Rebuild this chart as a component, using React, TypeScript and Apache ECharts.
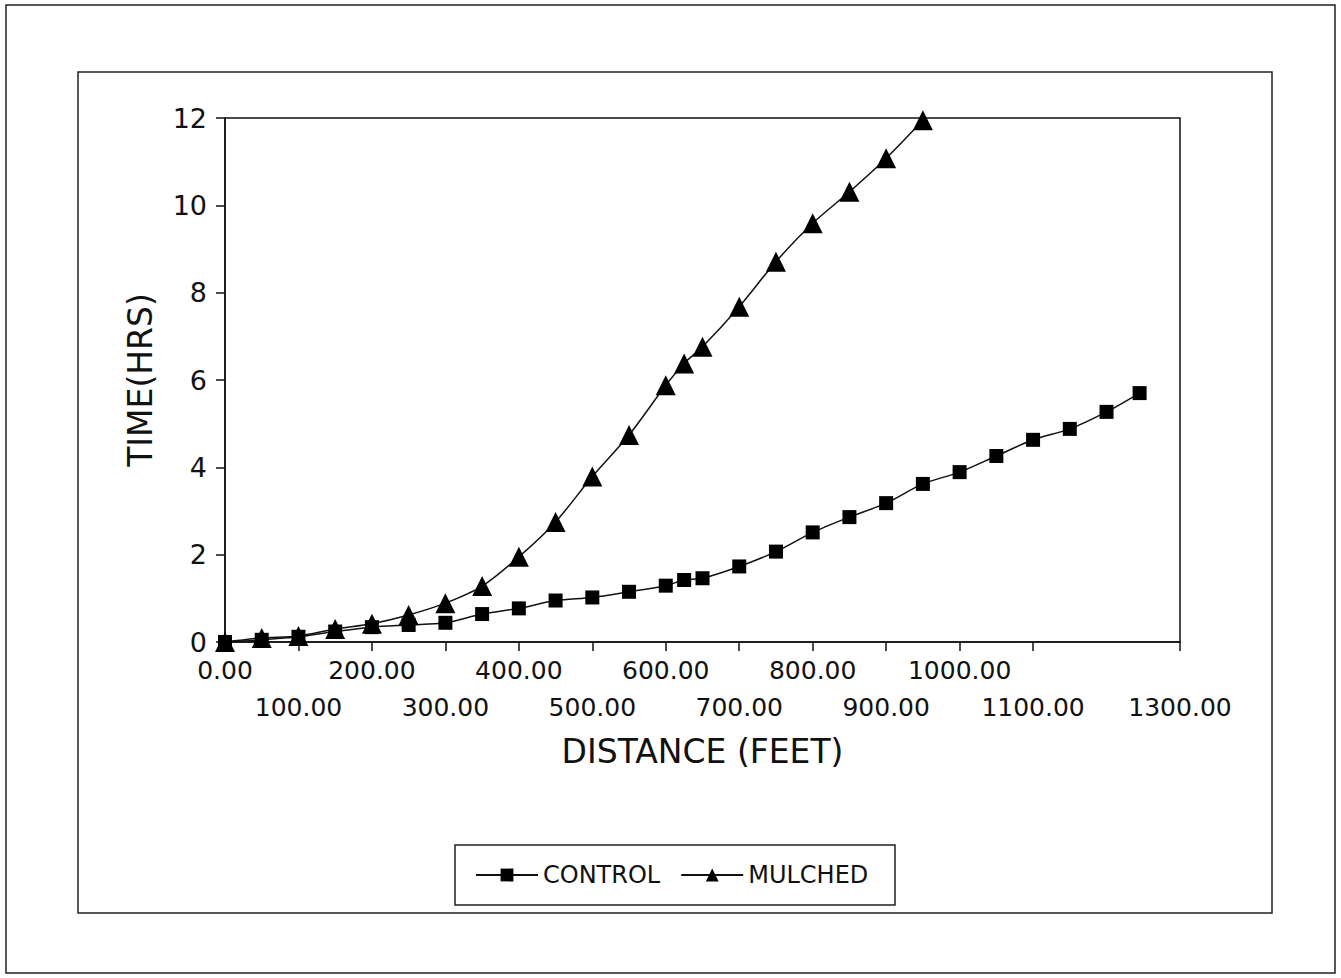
import React, { useEffect, useRef } from "react";
import * as echarts from "echarts";

const controlDistance = [0, 50, 100, 150, 200, 250, 300, 350, 400, 450, 500, 550, 600, 625, 650, 700, 750, 800, 850, 900, 950, 1000, 1050, 1100, 1150, 1200, 1245];
const controlTime = [0, 0.05, 0.12, 0.24, 0.34, 0.39, 0.44, 0.64, 0.77, 0.95, 1.02, 1.15, 1.29, 1.42, 1.46, 1.73, 2.07, 2.51, 2.86, 3.18, 3.62, 3.89, 4.26, 4.63, 4.88, 5.27, 5.70];

const mulchedDistance = [0, 50, 100, 150, 200, 250, 300, 350, 400, 450, 500, 550, 600, 625, 650, 700, 750, 800, 850, 900, 950];
const mulchedTime = [0, 0.09, 0.14, 0.3, 0.42, 0.62, 0.89, 1.28, 1.95, 2.75, 3.79, 4.74, 5.88, 6.38, 6.76, 7.68, 8.71, 9.59, 10.31, 11.08, 11.95];

const seriesNames = ["CONTROL", "MULCHED"];
const xTitle = "DISTANCE (FEET)";
const yTitle = "TIME(HRS)";

const FONT = "DejaVu Sans";

export default function App() {
  const ref = useRef<HTMLDivElement>(null);
  useEffect(() => {
    if (!ref.current) return;
    const chart = echarts.init(ref.current, null, { renderer: "svg" });
    const pair = (xs: number[], ys: number[]) => xs.map((x, i) => [x, ys[i]]);
    chart.setOption({
      animation: false,
      backgroundColor: "#ffffff",
      grid: {
        left: 225,
        top: 118,
        right: 161,
        bottom: 336,
        show: true,
        borderColor: "#111",
        borderWidth: 1.5,
        backgroundColor: "transparent",
      },
      xAxis: {
        type: "value",
        min: 0,
        max: 1300,
        interval: 100,
        name: xTitle,
        nameLocation: "middle",
        nameGap: 93,
        nameTextStyle: { fontFamily: FONT, fontSize: 33, color: "#111" },
        axisLine: { show: true, lineStyle: { color: "#111", width: 1.5 } },
        axisTick: { show: true, inside: false, length: 9, lineStyle: { color: "#111", width: 1.5 } },
        splitLine: { show: false },
        axisLabel: {
          fontFamily: FONT,
          fontSize: 25,
          color: "#111",
          margin: 10,
          lineHeight: 37,
          showMaxLabel: true,
          showMinLabel: true,
          formatter: (v: number) => {
            const s = v.toFixed(2);
            return Math.round(v / 100) % 2 === 1 ? "\n" + s : s;
          },
        },
      },
      yAxis: {
        type: "value",
        min: 0,
        max: 12,
        interval: 2,
        name: yTitle,
        nameLocation: "middle",
        nameGap: 68,
        nameTextStyle: { fontFamily: FONT, fontSize: 33, color: "#111" },
        axisLine: { show: true, lineStyle: { color: "#111", width: 1.5 } },
        axisTick: { show: true, inside: false, length: 9, lineStyle: { color: "#111", width: 1.5 } },
        splitLine: { show: false },
        axisLabel: { fontFamily: FONT, fontSize: 27, color: "#111", margin: 18 },
      },
      legend: {
        show: true,
        left: 470,
        top: 858,
        itemWidth: 62,
        itemHeight: 16,
        itemGap: 20,
        textStyle: { fontFamily: FONT, fontSize: 24, color: "#111" },
        data: seriesNames,
      },
      graphic: [
        { type: "rect", shape: { x: 6, y: 5, width: 1329, height: 968 }, style: { fill: "none", stroke: "#222", lineWidth: 1.5 }, silent: true },
        { type: "rect", shape: { x: 78, y: 72, width: 1194, height: 841 }, style: { fill: "none", stroke: "#222", lineWidth: 1.5 }, silent: true },
        { type: "rect", shape: { x: 455, y: 845, width: 440, height: 60 }, style: { fill: "none", stroke: "#222", lineWidth: 1.5 }, silent: true },
      ],
      series: [
        {
          name: seriesNames[0],
          type: "line",
          data: pair(controlDistance, controlTime),
          smooth: 0.3,
          symbol: "rect",
          symbolSize: 14,
          itemStyle: { color: "#000" },
          lineStyle: { color: "#111", width: 1.5 },
        },
        {
          name: seriesNames[1],
          type: "line",
          data: pair(mulchedDistance, mulchedTime),
          smooth: 0.3,
          symbol: "triangle",
          symbolSize: 20,
          itemStyle: { color: "#000" },
          lineStyle: { color: "#111", width: 1.5 },
        },
      ],
    });
    return () => chart.dispose();
  }, []);
  return (
    <div
      ref={ref}
      style={{ position: "fixed", left: 0, top: 0, width: 1341, height: 978 }}
    />
  );
}
